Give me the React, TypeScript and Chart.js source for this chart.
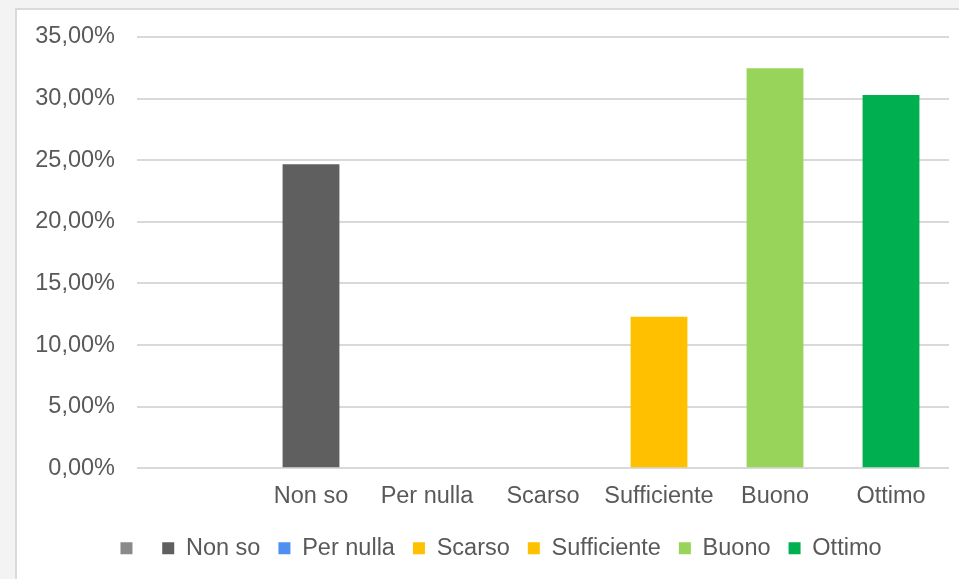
import React, { useEffect, useRef } from "react";
import { Chart, registerables } from "chart.js";

Chart.register(...registerables);

const categories = ["", "Non so", "Per nulla", "Scarso", "Sufficiente", "Buono", "Ottimo"];
const values: (number | null)[] = [null, 24.68, 0, 0, 12.3, 32.47, 30.3];
const colors = ["#8a8a8a", "#5f5f5f", "#4e8ff2", "#ffc000", "#ffc000", "#99d45a", "#00b050"];
const yTicks = [0, 5, 10, 15, 20, 25, 30, 35];

const FONT = "'Liberation Sans', Arial, sans-serif";
const TEXT = "#595959";
const FS = 23.5;

const legendShift = {
  id: "legendShift",
  afterLayout(chart: any) {
    if (chart.legend) chart.legend.left += 36;
  },
};

export default function App() {
  const ref = useRef<HTMLCanvasElement | null>(null);

  useEffect(() => {
    if (!ref.current) return;
    const chart = new Chart(ref.current, {
      type: "bar",
      data: {
        labels: categories,
        datasets: [
          {
            data: values,
            backgroundColor: colors,
            borderWidth: 0,
            barPercentage: 0.49,
            categoryPercentage: 1,
          },
        ],
      },
      plugins: [legendShift],
      options: {
        animation: false,
        responsive: false,
        layout: { padding: { top: 27, right: 10, left: 0, bottom: 9 } },
        scales: {
          x: {
            grid: { display: false, drawTicks: false },
            border: { display: false },
            afterFit: (scale: any) => {
              scale.height -= 6;
            },
            ticks: {
              padding: 14,
              color: TEXT,
              font: { family: FONT, size: FS },
              maxRotation: 0,
              autoSkip: false,
            },
          },
          y: {
            min: 0,
            max: 35,
            afterBuildTicks: (scale: any) => {
              scale.ticks = yTicks.map((v) => ({ value: v }));
            },
            afterFit: (scale: any) => {
              scale.width = 120;
              scale.paddingTop = 0;
              scale.paddingBottom = 0;
            },
            grid: { color: "#d9d9d9", lineWidth: 2, drawTicks: false },
            border: { display: false },
            ticks: {
              padding: 22,
              color: TEXT,
              font: { family: FONT, size: FS },
              callback: (v: any) => Number(v).toFixed(2).replace(".", ",") + "%",
            },
          },
        },
        plugins: {
          tooltip: { enabled: false },
          legend: {
            position: "bottom",
            labels: {
              boxWidth: 12,
              boxHeight: 12,
              padding: 18,
              color: TEXT,
              font: { family: FONT, size: FS },
              generateLabels: () =>
                categories.map((c, i) => ({
                  text: c,
                  fillStyle: colors[i],
                  strokeStyle: colors[i],
                  lineWidth: 0,
                  hidden: false,
                  index: i,
                  datasetIndex: 0,
                  fontColor: TEXT,
                })),
            },
            onClick: () => {},
          },
        },
      },
    });
    return () => chart.destroy();
  }, []);

  return (
    <div style={{ position: "fixed", left: 0, top: 0, width: 959, height: 579, background: "#f3f3f3", overflow: "hidden" }}>
      <div
        style={{
          position: "absolute",
          left: 15,
          top: 8,
          width: 960,
          height: 600,
          background: "#ffffff",
          border: "2px solid #dadada",
        }}
      >
        <canvas ref={ref} width={942} height={569} style={{ display: "block" }} />
      </div>
    </div>
  );
}
